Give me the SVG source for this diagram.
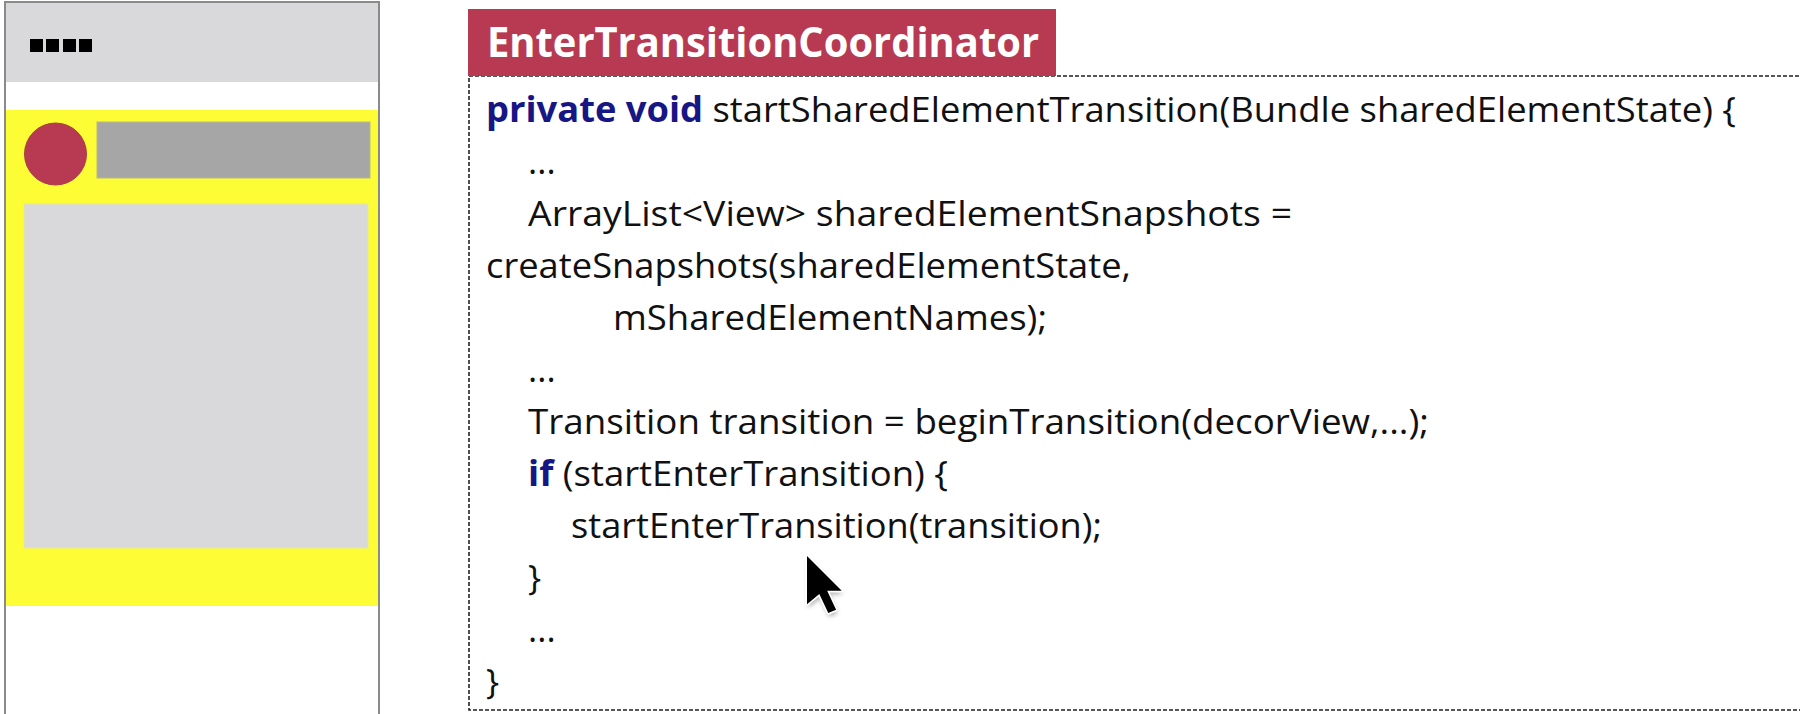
<svg xmlns="http://www.w3.org/2000/svg" width="1800" height="714" viewBox="0 0 1800 714">
<style>
.code{font-family:"Open Sans","Noto Sans","Liberation Sans",sans-serif;font-size:35px;fill:#111}
.kw{font-weight:bold;fill:#161685}
.title{font-family:"Open Sans","Noto Sans","Liberation Sans",sans-serif;font-size:41px;font-weight:bold;fill:#fff}
.dash{fill:none;stroke:#222;stroke-width:1.6;stroke-dasharray:4 2}
</style>
<defs>
<filter id="sh" x="-50%" y="-50%" width="200%" height="200%"><feGaussianBlur stdDeviation="2.5"/></filter>
</defs>
<rect width="1800" height="714" fill="#fff"/>
<g id="phone">
<rect x="5" y="2" width="374" height="720" fill="#fff" stroke="#8a8a8a" stroke-width="2"/>
<rect x="6" y="3" width="372" height="79" fill="#d9d9db"/>
<g fill="#000">
<rect x="30" y="39" width="13" height="13"/>
<rect x="46" y="39" width="13" height="13"/>
<rect x="63" y="39" width="13" height="13"/>
<rect x="79" y="39" width="13" height="13"/>
</g>
<rect x="6" y="110" width="372" height="496" fill="#fdfd35"/>
<circle cx="55.5" cy="154" r="31" fill="#b83a52" stroke="#a8403f" stroke-width="1"/>
<rect x="97" y="122" width="273" height="56" fill="#a6a6a6" stroke="#b8b88a" stroke-width="1"/>
<rect x="24" y="204" width="344" height="344" fill="#d9d9db" stroke="#e6e6a0" stroke-width="1"/>
</g>
<g id="codebox">
<rect class="dash" x="469" y="76" width="1340" height="634"/>
<rect x="468" y="9" width="588" height="67" fill="#b83a52"/>
<text class="title" x="487" y="57" textLength="552" lengthAdjust="spacingAndGlyphs">EnterTransitionCoordinator</text>
</g>
<g id="code" class="code">
<text x="486" y="122" textLength="1250" lengthAdjust="spacingAndGlyphs"><tspan class="kw">private void</tspan> startSharedElementTransition(Bundle sharedElementState) {</text>
<text x="528" y="174">...</text>
<text x="528" y="226" textLength="764" lengthAdjust="spacingAndGlyphs">ArrayList&lt;View&gt; sharedElementSnapshots =</text>
<text x="486" y="278" textLength="645" lengthAdjust="spacingAndGlyphs">createSnapshots(sharedElementState,</text>
<text x="613" y="330" textLength="434" lengthAdjust="spacingAndGlyphs">mSharedElementNames);</text>
<text x="528" y="382">...</text>
<text x="528" y="434" textLength="901" lengthAdjust="spacingAndGlyphs">Transition transition = beginTransition(decorView,...);</text>
<text x="528" y="486" textLength="420" lengthAdjust="spacingAndGlyphs"><tspan class="kw">if</tspan> (startEnterTransition) {</text>
<text x="571" y="538" textLength="531" lengthAdjust="spacingAndGlyphs">startEnterTransition(transition);</text>
<text x="528" y="590">}</text>
<text x="528" y="642">...</text>
<text x="486" y="694">}</text>
</g>
<g id="cursor" transform="translate(807,556) scale(1.12)">
<path d="M0,0 L0,43 L11,34 L19,51 L26,48 L18,31 L31,31 Z" fill="#000" opacity="0.35" filter="url(#sh)" transform="translate(1,3)"/>
<path d="M0,0 L0,43 L11,34 L19,51 L26,48 L18,31 L31,31 Z" fill="#000" stroke="#fff" stroke-width="3" stroke-linejoin="round" paint-order="stroke"/>
</g>
</svg>
